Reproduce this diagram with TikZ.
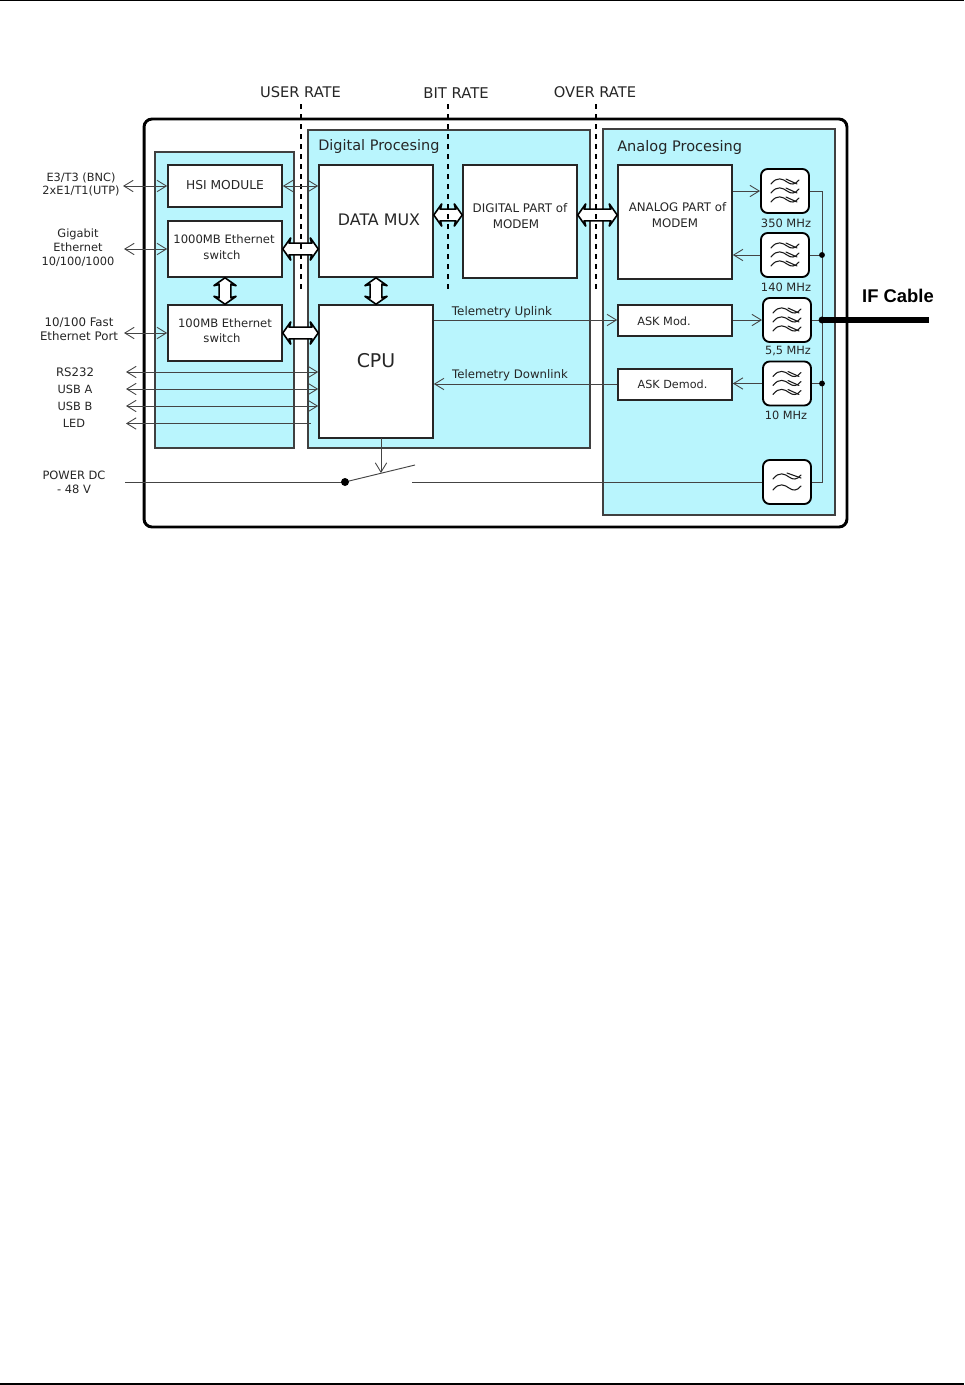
\documentclass[tikz,border=0pt]{standalone}
\usepackage{fontspec}
\setmainfont{DejaVu Sans}
\newfontfamily\cablefont{Liberation Sans}
\usetikzlibrary{arrows.meta,calc}
\definecolor{panelcyan}{HTML}{B9F5FD}
\definecolor{wiregray}{HTML}{444444}
\tikzset{
  x=0.75pt,y=-0.75pt,
  outerbox/.style={draw=black,line width=2.2pt,rounded corners=6pt,inner sep=0,fill=white},
  panel/.style={draw=black!75,line width=1pt,fill=panelcyan,inner sep=0},
  blockbox/.style={draw=black!85,line width=1.2pt,fill=white,inner sep=0,minimum width=85.5pt},
  filterbox/.style={draw=black,line width=1.4pt,fill=white,rounded corners=5pt,inner sep=0,minimum width=36pt,minimum height=33pt},
  lbl/.style={inner sep=0,text=black!85,align=center,font=\fontsize{#1}{#1}\selectfont},
  lbl/.default=8,
  wire/.style={draw=wiregray,line width=0.7pt},
  tip/.style={wire,-{Straight Barb[length=7pt,width=8.5pt,line width=0.65pt]}},
  tips/.style={wire,{Straight Barb[length=7pt,width=8.5pt,line width=0.65pt]}-{Straight Barb[length=7pt,width=8.5pt,line width=0.65pt]}},
  lefttip/.style={wire,{Straight Barb[length=7pt,width=8.5pt,line width=0.65pt]}-},
  rate/.style={draw=black,line width=1.2pt,dash pattern=on 4pt off 3.5pt},
  fat/.style={draw=black,line width=1.2pt,fill=white,line join=miter,miter limit=3},
  wave/.style={draw=black!90,line width=0.8pt,line cap=round},
}
% fat double-headed arrow between two points
\newcommand{\fatarrow}[2]{%
  \draw[fat] let \p1=#1,\p2=#2,\n1={veclen(\x2-\x1,\y2-\y1)},\n2={atan2(\y2-\y1,\x2-\x1)} in
    (\p1) -- ($(\p1)+(\n2:6pt)+(\n2+90:8.5pt)$) -- ($(\p1)+(\n2:5pt)+(\n2+90:4.4pt)$)
    -- ($(\p2)+(\n2:-5pt)+(\n2+90:4.4pt)$) -- ($(\p2)+(\n2:-6pt)+(\n2+90:8.5pt)$)
    -- (\p2) -- ($(\p2)+(\n2:-6pt)+(\n2-90:8.5pt)$) -- ($(\p2)+(\n2:-5pt)+(\n2-90:4.4pt)$)
    -- ($(\p1)+(\n2:5pt)+(\n2-90:4.4pt)$) -- ($(\p1)+(\n2:6pt)+(\n2-90:8.5pt)$) -- cycle;%
}
\newcommand{\wavetriple}[1]{%
  \begin{scope}[shift={(#1)}]
    \foreach \d in {-9,0,9}{
      \draw[wave] (-14,\d+2) .. controls (-8,\d-6) and (-2,\d-3) .. (2,\d) .. controls (6,\d+3) and (10,\d+3) .. (14,\d-2);
      \draw[wave] (1,\d-3) -- (12,\d+2);
    }
  \end{scope}}
\newcommand{\wavedouble}[1]{%
  \begin{scope}[shift={(#1)}]
    \draw[wave] (-14,-3) .. controls (-8,-11) and (-2,-8) .. (2,-5) .. controls (6,-2) and (10,-2) .. (14,-7);
    \draw[wave] (0,-9) -- (14,-4);
    \draw[wave] (-14,8) .. controls (-8,0) and (-2,3) .. (2,6) .. controls (6,9) and (10,9) .. (14,4);
  \end{scope}}
\begin{document}
\begin{tikzpicture}
\useasboundingbox (0,0) rectangle (964,1385);
\fill[white] (0,0) rectangle (964,1385);
\coordinate (topl) at (0,0.8); \coordinate (topr) at (964,0.8);
\coordinate (botl) at (0,1384); \coordinate (botr) at (964,1384);
\draw[black,line width=1pt] (topl) -- (topr);
\draw[black,line width=0.8pt] (botl) -- (botr);

% frames
\node[outerbox,minimum width=527.2pt,minimum height=306pt] (outer) at (495.5,323) {};
\node[panel,minimum width=104.25pt,minimum height=222pt] (leftp) at (224.5,300) {};
\node[panel,minimum width=211.5pt,minimum height=238.5pt] (digp) at (449,289) {};
\node[panel,minimum width=174pt,minimum height=289.5pt] (anap) at (719,322) {};

% blocks
\node[blockbox,minimum height=31.5pt] (hsi) at (225,186) {};
\node[blockbox,minimum height=42pt] (swa) at (225,249) {};
\node[blockbox,minimum height=42pt] (swb) at (225,333) {};
\node[blockbox,minimum height=84pt] (mux) at (376,221) {};
\node[blockbox,minimum height=99.75pt] (cpu) at (376,371.5) {};
\node[blockbox,minimum height=84.75pt] (dig) at (520,221.5) {};
\node[blockbox,minimum height=85.5pt] (ana) at (675,222) {};
\node[blockbox,minimum height=23.25pt] (askm) at (675,320.5) {};
\node[blockbox,minimum height=23.25pt] (askd) at (675,384.5) {};

% filters
\node[filterbox] (f350) at (785,191) {};
\node[filterbox] (f140) at (785,255) {};
\node[filterbox] (f55) at (787,320) {};
\node[filterbox] (f10) at (787,383.5) {};
\node[filterbox] (flp) at (787,482) {};
\wavetriple{f350.center}
\wavetriple{f140.center}
\wavetriple{f55.center}
\wavetriple{f10.center}
\wavedouble{flp.center}

% rate lines
\coordinate (ua) at (301,104); \coordinate (ub) at (301,289);
\coordinate (ba) at (448,104); \coordinate (bb) at (448,289);
\coordinate (oa) at (596,104); \coordinate (ob) at (596,289);

% fat arrows
\coordinate (fmy) at (0,215);
\fatarrow{(swa.east)}{(swa.east -| mux.west)}
\fatarrow{(swb.east)}{(swb.east -| cpu.west)}
\fatarrow{(mux.east |- fmy)}{(dig.west |- fmy)}
\fatarrow{(dig.east |- fmy)}{(ana.west |- fmy)}
\fatarrow{(swa.south)}{(swb.north)}
\fatarrow{(mux.south)}{(cpu.north)}

\draw[rate] (ua) -- (ub);
\draw[rate] (ba) -- (bb);
\draw[rate] (oa) -- (ob);

% labels
\node[lbl=11] (tuser) at (300.5,92) {USER RATE};
\node[lbl=11.1] (tbit) at (456,93) {BIT RATE};
\node[lbl=11] (tover) at (595,92) {OVER RATE};
\node[lbl=10.85,anchor=west] (tdig) at (318,147) {Digital Procesing};
\node[lbl=10.9,anchor=west] (tana) at (617,147) {Analog Procesing};
\node[lbl=8.5] (te3) at (81,184.5) {E3/T3 (BNC)\\[1.5pt]2xE1/T1(UTP)};
\node[lbl=8.55] (tgig) at (78,247.5) {Gigabit\\[2pt]Ethernet\\[2pt]10/100/1000};
\node[lbl=8.85] (tfast) at (79,329) {10/100 Fast\\[2pt]Ethernet Port};
\node[lbl=8.8] (trs) at (75,372) {RS232};
\node[lbl=8.5] (tua) at (75,389) {USB A};
\node[lbl=8.5] (tub) at (75,406) {USB B};
\node[lbl=8.5] (tled) at (74,423.5) {LED};
\node[lbl=8.6] (tpow) at (74,482) {POWER DC\\[1.8pt]- 48 V};
\node[lbl=9.2] (thsi) at (225,185) {HSI MODULE};
\node[lbl=8.7] (tsa) at (224,239) {1000MB Ethernet};
\node[lbl=8.7] (tsas) at (222,255) {switch};
\node[lbl=8.7] (tsb) at (225,323) {100MB Ethernet};
\node[lbl=8.7] (tsbs) at (222,338.5) {switch};
\node[lbl=11.9] (tmux) at (379,220) {DATA MUX};
\node[lbl=14.2] (tcpu) at (376,361) {CPU};
\node[lbl=8.9] (tdm) at (520,208) {DIGITAL PART of};
\node[lbl=8.9] (tdms) at (516,224) {MODEM};
\node[lbl=8.85] (tam) at (677.5,207) {ANALOG PART of};
\node[lbl=8.85] (tams) at (675,223) {MODEM};
\node[lbl=8.5] (tm) at (664,321) {ASK Mod.};
\node[lbl=8.4] (td) at (672.5,384) {ASK Demod.};
\node[lbl=8.95] (tul) at (502,312) {Telemetry Uplink};
\node[lbl=8.8] (tdl) at (510,375) {Telemetry Downlink};
\node[lbl=8.6] (t350) at (786,223) {350 MHz};
\node[lbl=8.6] (t140) at (786,287) {140 MHz};
\node[lbl=8.5] (t55) at (788,351) {5,5 MHz};
\node[lbl=8.5] (t10) at (786,415) {10 MHz};
\node[inner sep=0,font=\cablefont\bfseries\fontsize{13.8}{13.8}\selectfont] (tif) at (898,296) {IF Cable};

% connectors
\coordinate (xe3) at (123,0);
\coordinate (xgig) at (124,0);
\coordinate (xser) at (126,0);
\coordinate (yu) at (0,320);
\coordinate (yd) at (0,384);
\draw[tips] (xe3 |- hsi.west) -- (hsi.west);
\draw[tips] (hsi.east) -- (hsi.east -| mux.west);
\draw[tips] (xgig |- swa.west) -- (swa.west);
\draw[tips] (xgig |- swb.west) -- (swb.west);
\draw[tips] (xser |- trs) -- (trs -| cpu.west);
\draw[tips] (xser |- tua) -- (tua -| cpu.west);
\draw[tips] (xser |- tub) -- (tub -| cpu.west);
\coordinate (ledend) at (311,423.5);
\draw[lefttip] (xser |- ledend) -- (ledend);
\draw[tip] (cpu.east |- yu) -- (askm.west |- yu);
\draw[tip] (askd.west |- yd) -- (cpu.east |- yd);

% switch
\coordinate (swpin) at (345,482);
\coordinate (swarm) at (415,465);
\coordinate (cpuout) at (381,438);
\coordinate (cpuhit) at (381,473);
\coordinate (pwrin) at (125,482);
\coordinate (pwrout) at (412,482);
\draw[wire] (pwrin) -- (swpin);
\draw[wire] (swpin) -- (swarm);
\fill[black] (swpin) circle (3pt);
\draw[tip] (cpuout) -- (cpuhit);
\draw[wire] (pwrout) -- (flp.west);

% filter wiring
\coordinate (busa) at (822,191);
\coordinate (busb) at (822,482);
\draw[wire] (f350.east) -- (busa) -- (busb) -- (flp.east);
\draw[tip] (ana.east |- f350.west) -- (f350.west);
\draw[tip] (f140.west) -- (ana.east |- f140.west);
\draw[tip] (askm.east |- f55.west) -- (f55.west);
\draw[tip] (f10.west) -- (askd.east |- f10.west);
\draw[wire] (f140.east) -- (f140.east -| busa);
\draw[wire] (f55.east) -- (f55.east -| busa);
\draw[wire] (f10.east) -- (f10.east -| busa);
\fill[black] (f140.east -| busa) circle (2.2pt);
\fill[black] (f10.east -| busa) circle (2.2pt);
\coordinate (cableend) at (929,320);
\fill[black] (f55.east -| busa) circle (2.6pt);
\draw[black,line width=5.2pt] (f55.east -| busa) -- (cableend);
\end{tikzpicture}
\end{document}
